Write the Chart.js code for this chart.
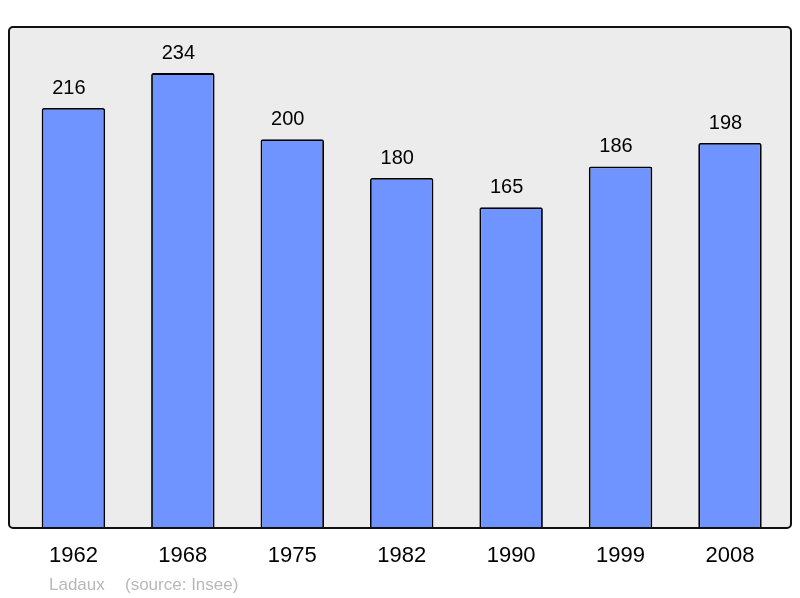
<!DOCTYPE html>
<html>
<head>
<meta charset="utf-8">
<script src="https://cdn.jsdelivr.net/npm/chart.js@4/dist/chart.umd.min.js"></script>
<style>
  html, body { margin: 0; padding: 0; background: #fff; }
  #wrap { width: 800px; height: 598px; }
</style>
</head>
<body>
<div id="wrap"><canvas id="popChart" width="800" height="598"></canvas></div>
<script>
// Donnees - population par recensement
const years  = ['1962', '1968', '1975', '1982', '1990', '1999', '2008'];
const population = [216, 234, 200, 180, 165, 186, 198];
const yMax = 257.7;

const FONT = '"Liberation Sans", Arial, sans-serif';

// grey frame behind the bars
const framePlugin = {
    id: 'frame',
    beforeDraw(chart) {
        const ctx = chart.ctx;
        ctx.save();
        ctx.beginPath();
        ctx.roundRect(9, 27, 782, 501, 4);
        ctx.fillStyle = '#ececec';
        ctx.fill();
        ctx.restore();
    },
    afterDatasetsDraw(chart) {
        const ctx = chart.ctx;
        ctx.save();
        ctx.beginPath();
        ctx.roundRect(9, 27, 782, 501, 4);
        ctx.lineWidth = 2;
        ctx.strokeStyle = '#111';
        ctx.stroke();
        ctx.restore();
    }
};

// value labels above bars + source line
const labelPlugin = {
    id: 'labels',
    afterDraw(chart) {
        const ctx = chart.ctx;
        const meta = chart.getDatasetMeta(0);
        ctx.save();
        ctx.font = '20px ' + FONT;
        ctx.fillStyle = '#000';
        ctx.textAlign = 'center';
        ctx.textBaseline = 'alphabetic';
        meta.data.forEach((bar, i) => {
            ctx.fillText(population[i], bar.x - 4.5, bar.y - 14.5);
        });
        ctx.font = '17px ' + FONT;
        ctx.fillStyle = '#b8b8b8';
        ctx.textAlign = 'left';
        ctx.fillText('Ladaux', 49, 590);
        ctx.fillText('(source: Insee)', 125, 590);
        ctx.restore();
    }
};

new Chart(document.getElementById('popChart'), {
    type: 'bar',
    data: {
        labels: years,
        datasets: [{
            data: population,
            backgroundColor: '#7094ff',
            borderColor: '#000',
            borderWidth: 1.8,
            borderRadius: 2,
            borderSkipped: 'bottom',
            categoryPercentage: 1,
            barPercentage: 0.58
        }]
    },
    options: {
        responsive: false,
        animation: false,
        layout: { padding: { left: 18.7, right: 15.3, top: 27, bottom: 13.6 } },
        plugins: {
            legend: { display: false },
            tooltip: { enabled: false }
        },
        scales: {
            x: {
                grid: { display: false, drawTicks: false },
                border: { display: false },
                ticks: {
                    color: '#000',
                    padding: 15,
                    font: { family: FONT, size: 22 }
                }
            },
            y: {
                display: false,
                min: 0,
                max: yMax
            }
        }
    },
    plugins: [framePlugin, labelPlugin]
});
</script>
</body>
</html>
